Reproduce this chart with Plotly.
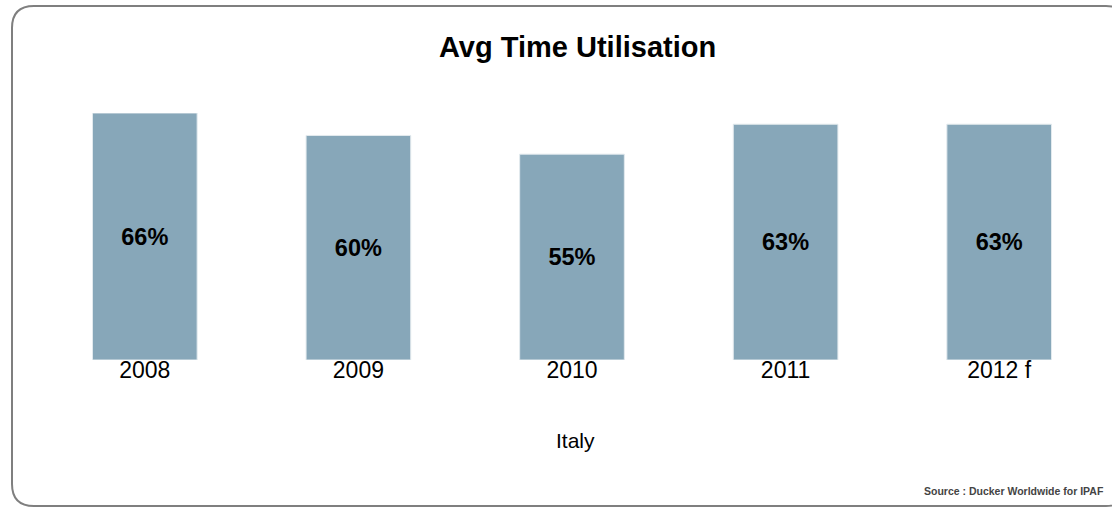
import plotly.graph_objects as go

categories = ["2008", "2009", "2010", "2011", "2012 f"]
values = [66, 60, 55, 63, 63]
labels = ["66%", "60%", "55%", "63%", "63%"]

W, H = 1112, 508
ML, MR, MT, MB = 38, 6, 113, 148
PW, PH = W - ML - MR, H - MT - MB

def px(x):
    return (x - ML) / PW

def py(y):
    return (H - MB - y) / PH

fig = go.Figure()
fig.add_trace(go.Bar(
    x=categories, y=values, text=labels,
    textposition="inside", insidetextanchor="middle", textangle=0,
    textfont=dict(family="Liberation Sans, Arial", size=23.5, color="#000000", weight="bold"),
    marker=dict(color="#87A7B9", line=dict(color="#e3eaee", width=1)),
    hoverinfo="skip",
))

# rounded frame
x0, x1, y0, y1, r = 12, 1128, 6, 506, 22
path = (
    f"M {px(x0+r)} {py(y0)} L {px(x1-r)} {py(y0)} "
    f"Q {px(x1)} {py(y0)} {px(x1)} {py(y0+r)} "
    f"L {px(x1)} {py(y1-r)} Q {px(x1)} {py(y1)} {px(x1-r)} {py(y1)} "
    f"L {px(x0+r)} {py(y1)} Q {px(x0)} {py(y1)} {px(x0)} {py(y1-r)} "
    f"L {px(x0)} {py(y0+r)} Q {px(x0)} {py(y0)} {px(x0+r)} {py(y0)} Z"
)
fig.add_shape(type="path", path=path, xref="paper", yref="paper",
              line=dict(color="#7f7f7f", width=2), layer="above")

fig.add_annotation(text="<b>Avg Time Utilisation</b>", x=px(577), y=py(47),
                   xref="paper", yref="paper", showarrow=False,
                   xanchor="center", yanchor="middle",
                   font=dict(family="Liberation Sans, Arial", size=29, color="#000000"))
fig.add_annotation(text="Italy", x=px(575), y=py(440),
                   xref="paper", yref="paper", showarrow=False,
                   xanchor="center", yanchor="middle",
                   font=dict(family="Liberation Sans, Arial", size=21, color="#000000"))
fig.add_annotation(text="<b>Source : Ducker Worldwide for IPAF</b>", x=px(1106), y=py(491),
                   xref="paper", yref="paper", showarrow=False,
                   xanchor="right", yanchor="middle",
                   font=dict(family="Liberation Sans, Arial", size=10.5, color="#444444"))

fig.update_layout(
    width=W, height=H,
    margin=dict(l=ML, r=MR, t=MT, b=MB, pad=0),
    paper_bgcolor="white", plot_bgcolor="white",
    bargap=0.51, showlegend=False,
    font=dict(family="Liberation Sans, Arial", color="#000000"),
)
fig.update_xaxes(showgrid=False, showline=False, zeroline=False, ticks="",
                 anchor="free", position=py(354),
                 tickfont=dict(size=23, color="#000000"))
fig.update_yaxes(visible=False, range=[0, 66], showgrid=False, zeroline=False)

fig.write_html("out.html", config={"displayModeBar": False},
               post_script="document.body.style.margin='0';document.body.style.padding='0';")
